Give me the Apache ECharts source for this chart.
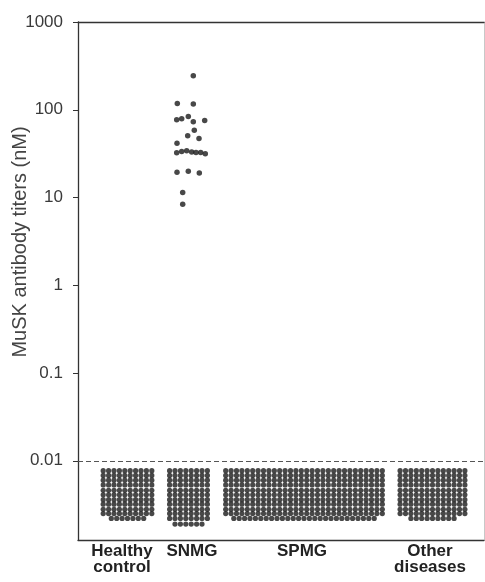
<!DOCTYPE html>
<html><head><meta charset="utf-8">
<script src="https://cdn.jsdelivr.net/npm/echarts@6/dist/echarts.min.js"></script>
<style>html,body{margin:0;padding:0;background:#fff}#c{width:485px;height:582px}</style>
</head><body><div id="c"></div>
<script>
// ---- data ----
const categories = ['Healthy\ncontrol', 'SNMG', 'SPMG', 'Other\ndiseases'];
const yTickValues = [0.01, 0.1, 1, 10, 100, 1000];
const yTickLabels = ['0.01', '0.1', '1', '10', '100', '1000'];
const yAxisTitle = 'MuSK antibody titers (nM)';
const cutoffTiter = 0.01;

// SNMG patients with positive titers (nM) and their horizontal jitter in the dot column
const snmgPositiveTiters = [244, 118, 116, 76.7, 79, 83.8, 72.8, 75.5, 58.5, 50.4, 47, 41.6,
  32.4, 33.5, 34, 33, 32.6, 32.6, 31.5, 19.4, 19.9, 19.0, 11.4, 8.4];
const snmgPositiveJitter = [4.8, -11.2, 4.8, -11.8, -6.8, -0.2, 4.8, 16.2, 5.8, -0.8, 10.5, -11.5,
  -11.8, -6.8, -1.8, 3.2, 7.5, 12.2, 16.8, -11.5, -0.2, 10.8, -5.8, -5.8];

// Negative (below cutoff) results drawn as stacked rows of dots
const lowRowTiters = [0.0077, 0.0068, 0.0060, 0.0053, 0.0046, 0.0041, 0.0036, 0.0032, 0.0028, 0.0025, 0.0022, 0.0019];
const lowRowsPerGroup = [11, 12, 11, 11];
const lowDotsPerRow = [10, 8, 30, 13];
const lowDotsLastRow = [7, 6, 27, 9];

// ---- layout ----
const groupCenters = [49.5, 110.5, 226, 354.5];
const labelCenters = [44, 114, 224, 352];
const dotStep = 5.4;
const xMax = 406;
const yMin = 0.00125, yMax = 1000;

const lowData = [];
for (let g = 0; g < categories.length; g++) {
  const rows = lowRowsPerGroup[g];
  for (let r = 0; r < rows; r++) {
    const n = (r === rows - 1) ? lowDotsLastRow[g] : lowDotsPerRow[g];
    for (let i = 0; i < n; i++) {
      lowData.push([groupCenters[g] + (i - (n - 1) / 2) * dotStep, lowRowTiters[r]]);
    }
  }
}
const posData = snmgPositiveTiters.map((v, i) => [groupCenters[1] + snmgPositiveJitter[i], v]);

const font = 'Liberation Sans, Arial, Helvetica, sans-serif';
const axisColor = '#333';

const chart = echarts.init(document.getElementById('c'), null, {renderer: 'canvas'});
chart.setOption({
  animation: false,
  backgroundColor: '#fff',
  grid: {left: 78, right: 1, top: 22, bottom: 42, containLabel: false, outerBoundsMode: 'none'},
  xAxis: [{
    type: 'value', min: 0, max: xMax, gridIndex: 0, position: 'bottom',
    axisLine: {show: true, onZero: false, lineStyle: {color: axisColor, width: 1.3}},
    axisTick: {show: false},
    splitLine: {show: false},
    axisLabel: {
      customValues: labelCenters,
      formatter: v => { const k = labelCenters.indexOf(v); return k >= 0 ? categories[k] : ''; },
      fontFamily: font, fontSize: 17, fontWeight: 'bold', color: '#222',
      lineHeight: 16, margin: 3
    }
  }, {
    type: 'value', min: 0, max: xMax, gridIndex: 0, position: 'top',
    axisLine: {show: true, onZero: false, lineStyle: {color: axisColor, width: 1.3}},
    axisTick: {show: false}, axisLabel: {show: false}, splitLine: {show: false}
  }],
  yAxis: [{
    type: 'log', logBase: 10, min: yMin, max: yMax, position: 'left',
    name: yAxisTitle, nameLocation: 'middle', nameRotate: 90, nameGap: 48, nameMoveOverlap: false,
    nameTextStyle: {fontFamily: font, fontSize: 20, color: '#444', padding: [0, 0, 0, 78]},
    axisLine: {show: true, onZero: false, lineStyle: {color: axisColor, width: 1.3}},
    axisTick: {show: true, inside: false, length: 5, customValues: yTickValues, lineStyle: {color: axisColor}},
    splitLine: {show: false},
    axisLabel: {
      customValues: yTickValues,
      formatter: v => { const k = yTickValues.findIndex(t => Math.abs(Math.log10(t) - Math.log10(v)) < 1e-6); return k >= 0 ? yTickLabels[k] : ''; },
      fontFamily: font, fontSize: 17, color: '#3a3a3a', margin: 15
    }
  }, {
    type: 'log', logBase: 10, min: yMin, max: yMax, position: 'right',
    axisLine: {show: true, onZero: false, lineStyle: {color: '#c8c8c8', width: 1}},
    axisTick: {show: false}, axisLabel: {show: false}, splitLine: {show: false}
  }],
  series: [{
    type: 'scatter', xAxisIndex: 0, yAxisIndex: 0,
    data: lowData, symbol: 'circle', symbolSize: 5.2,
    itemStyle: {color: '#1a1a1a'},
    markLine: {
      silent: true, symbol: 'none', label: {show: false},
      lineStyle: {type: [5, 3], color: '#555', width: 1},
      data: [{yAxis: cutoffTiter}]
    }
  }, {
    type: 'scatter', xAxisIndex: 0, yAxisIndex: 0,
    data: posData, symbol: 'circle', symbolSize: 5.5,
    itemStyle: {color: '#1a1a1a'}
  }]
});
</script>
</body></html>
